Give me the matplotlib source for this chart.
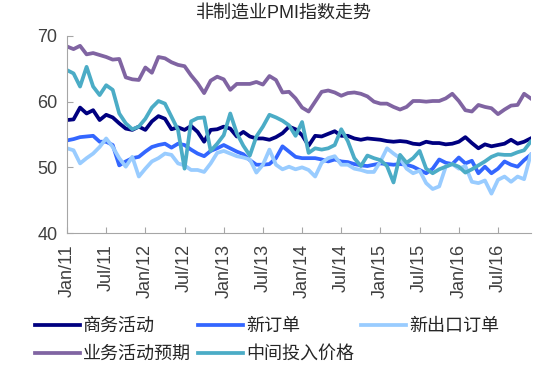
import matplotlib
matplotlib.use("Agg")
import matplotlib.pyplot as plt

plt.rcParams['font.family'] = ['Liberation Sans', 'Noto Sans CJK SC', 'DejaVu Sans']

# 2011-01 .. 2016-12, monthly
tick_labels = ['Jan/11', 'Jul/11', 'Jan/12', 'Jul/12', 'Jan/13', 'Jul/13',
               'Jan/14', 'Jul/14', 'Jan/15', 'Jul/15', 'Jan/16', 'Jul/16']

business = [57.2, 57.3, 59.1, 58.2, 58.7, 57.2, 58.0, 57.6, 56.7, 55.9, 55.7, 56.2,
            55.7, 57.0, 57.8, 57.4, 55.8, 56.1, 55.7, 56.3, 55.4, 53.9, 55.7, 55.8,
            56.2, 55.9, 54.7, 55.4, 54.7, 54.4, 54.4, 54.2, 54.6, 55.2, 56.2, 55.8,
            54.9, 53.3, 54.8, 54.7, 55.1, 55.5, 54.8, 54.8, 54.4, 54.2, 54.4, 54.3,
            54.2, 54.0, 53.9, 54.0, 53.9, 53.6, 53.5, 53.9, 53.7, 53.7, 53.5, 53.6,
            53.9, 54.6, 53.7, 52.9, 53.5, 53.2, 53.4, 53.6, 54.2, 53.6, 53.9, 54.4]

new_orders = [54.1, 54.3, 54.6, 54.7, 54.8, 53.9, 53.9, 53.4, 50.3, 50.9, 51.4, 51.6,
              52.4, 53.1, 53.4, 53.6, 53.0, 53.6, 53.4, 52.7, 52.1, 51.7, 52.5, 52.9,
              53.4, 52.9, 52.4, 52.0, 51.1, 50.4, 50.4, 50.5, 51.4, 53.2, 52.4, 51.6,
              51.4, 51.4, 51.4, 51.2, 50.9, 51.2, 50.9, 50.8, 50.5, 50.3, 50.2, 50.4,
              50.6, 50.5, 50.4, 50.5, 50.4, 50.1, 49.6, 49.1, 49.8, 51.2, 50.7, 50.5,
              51.5, 50.6, 51.0, 49.1, 50.1, 49.1, 49.8, 50.9, 50.4, 50.1, 51.1, 51.9]

export_orders = [52.9, 52.6, 50.6, 51.4, 52.1, 53.1, 54.4, 53.1, 51.4, 50.1, 51.6, 48.6,
                 49.8, 50.9, 51.4, 52.1, 51.9, 50.6, 50.3, 49.6, 49.6, 49.3, 50.6, 52.2,
                 52.5, 52.1, 51.7, 51.5, 51.2, 49.2, 50.4, 52.7, 50.4, 49.7, 50.1, 49.7,
                 50.0, 49.6, 48.6, 50.7, 51.4, 51.7, 50.4, 50.4, 49.8, 49.6, 49.3, 49.3,
                 50.9, 52.9, 52.1, 51.4, 49.8, 49.1, 49.5, 47.6, 46.7, 47.1, 50.1, 50.5,
                 49.8, 50.2, 47.8, 47.6, 48.0, 46.0, 48.1, 48.6, 47.8, 48.6, 48.2, 51.9]

expectation = [68.4, 68.0, 68.5, 67.2, 67.4, 67.1, 66.8, 66.4, 66.5, 63.7, 63.4, 63.3,
               65.2, 64.4, 66.8, 66.6, 66.0, 65.6, 65.4, 64.0, 62.8, 61.3, 63.2, 63.8,
               63.4, 61.8, 62.7, 62.7, 62.7, 63.0, 62.6, 63.9, 63.3, 61.4, 61.5, 60.5,
               59.1, 58.5, 60.0, 61.5, 61.7, 61.4, 60.9, 61.3, 61.4, 61.2, 60.8, 60.0,
               59.7, 59.7, 59.2, 58.8, 59.2, 60.1, 60.1, 60.0, 60.1, 60.1, 60.5, 61.2,
               60.1, 58.7, 58.5, 59.5, 59.2, 59.0, 58.1, 58.8, 59.4, 59.5, 61.2, 60.5]

input_price = [64.8, 64.3, 62.3, 65.3, 62.3, 61.0, 62.5, 61.8, 58.2, 56.7, 55.8, 56.2,
               57.4, 59.1, 60.1, 59.7, 57.7, 55.7, 49.8, 57.0, 57.5, 57.6, 52.5, 53.6,
               54.9, 58.2, 55.2, 53.3, 51.8, 54.7, 56.2, 58.0, 57.6, 57.1, 56.4, 54.8,
               56.9, 52.2, 52.9, 52.7, 52.9, 53.4, 55.8, 54.0, 51.4, 50.2, 51.8, 51.4,
               51.1, 50.2, 47.7, 51.9, 50.7, 51.4, 52.5, 49.8, 49.1, 49.7, 50.1, 50.5,
               50.1, 49.2, 49.7, 50.3, 50.9, 51.6, 52.0, 51.9, 51.9, 52.3, 52.6, 53.9]

x = list(range(len(business)))

fig, ax = plt.subplots(figsize=(5.36, 3.67), dpi=100)
fig.subplots_adjust(left=0.125, right=0.99, top=0.902, bottom=0.365)

lw = 2.7
l1, = ax.plot(x, business, color='#000080', lw=lw, label='商务活动')
l2, = ax.plot(x, new_orders, color='#3366ff', lw=lw, label='新订单')
l3, = ax.plot(x, export_orders, color='#99ccff', lw=lw, label='新出口订单')
l4, = ax.plot(x, expectation, color='#8064a2', lw=lw, label='业务活动预期')
l5, = ax.plot(x, input_price, color='#4bacc6', lw=lw, label='中间投入价格')

ax.set_xlim(0, len(x) - 1)
ax.set_ylim(40, 70)
ax.set_yticks([40, 50, 60, 70])
ax.set_xticks(x[::6])
ax.set_xticklabels(tick_labels, rotation=90)

for s in ['top', 'right']:
    ax.spines[s].set_visible(False)
for s in ['left', 'bottom']:
    ax.spines[s].set_color('#a6a6a6')
ax.tick_params(axis='both', direction='in', color='#a6a6a6', labelsize=13,
               labelcolor='#404040', length=4)
ax.tick_params(axis='y', pad=7)
ax.tick_params(axis='x', pad=8)

fig.text(0.53, 0.965, '非制造业PMI指数走势', ha='center', va='center',
         fontsize=13, color='#262626')

# column-major order so rows read left to right
fig.legend([l1, l4, l2, l5, l3],
           ['商务活动', '业务活动预期', '新订单', '中间投入价格', '新出口订单'],
           ncol=3, loc='upper left', bbox_to_anchor=(35 / 536, 1 - 318 / 367),
           frameon=False, fontsize=13, handlelength=2.5, handletextpad=0.15,
           columnspacing=0.4, labelspacing=0.6, borderpad=0, borderaxespad=0,
           labelcolor='#262626')

fig.savefig('out.png', dpi=100)
